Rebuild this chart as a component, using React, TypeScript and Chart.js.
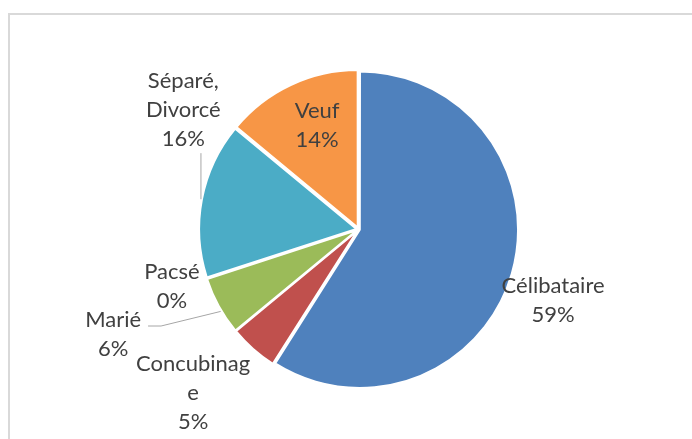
import { useEffect, useRef } from "react";
import { Chart, registerables } from "chart.js";

Chart.register(...registerables);

const categories = ["Célibataire", "Concubinage", "Marié", "Pacsé", "Séparé, Divorcé", "Veuf"];
const shares = [59, 5, 6, 0, 16, 14];
const labelLines = [["Célibataire"], ["Concubinag", "e"], ["Marié"], ["Pacsé"], ["Séparé,", "Divorcé"], ["Veuf"]];
const colors = ["#4F81BD", "#C0504D", "#9BBB59", "#8064A2", "#4BACC6", "#F79646"];

// label placement: radial distance (x outer radius) and angular shift (deg) from slice bisector
const labelPlacement = [
  { r: 1.32, shift: 4 },
  { r: 1.483, shift: 3.9 },
  { r: 1.7, shift: 5.7 },
  { r: 1.244, shift: 0.9 },
  { r: 1.35, shift: 23.4 },
  { r: 0.715, shift: 3.5 },
];

const FONT_SIZE = 22;
const LINE_H = 29;
const TEXT_COLOR = "#404040";
const LEADER_COLOR = "#A6A6A6";
const SLICE_SHIFT = 2.5;

const total = shares.reduce((a, b) => a + b, 0);

const labelPlugin = {
  id: "pieLabels",
  afterDatasetsDraw(chart: any) {
    const ctx = chart.ctx as CanvasRenderingContext2D;
    const meta = chart.getDatasetMeta(0);
    ctx.save();
    ctx.font = `${FONT_SIZE}px Lato`;
    ctx.fillStyle = TEXT_COLOR;
    ctx.textAlign = "center";
    ctx.textBaseline = "middle";
    meta.data.forEach((arc: any, i: number) => {
      const mid = (arc.startAngle + arc.endAngle) / 2;
      const R = arc.outerRadius;
      const p = labelPlacement[i];
      const a = mid + (p.shift * Math.PI) / 180;
      const cx = arc.x + Math.cos(a) * R * p.r;
      const cy = arc.y + Math.sin(a) * R * p.r;
      const lines = [...labelLines[i], `${shares[i]}%`];
      const top = cy - ((lines.length - 1) * LINE_H) / 2;
      lines.forEach((t, k) => ctx.fillText(t, cx, top + k * LINE_H));

      // leader lines
      const sx = Math.cos(mid) * SLICE_SHIFT;
      const sy = Math.sin(mid) * SLICE_SHIFT;
      if (categories[i] === "Séparé, Divorcé") {
        const px = arc.x + Math.cos(mid) * (R + 1) + sx;
        const py = arc.y + Math.sin(mid) * (R + 1) + sy;
        const bottom = top + (lines.length - 1) * LINE_H + 14;
        ctx.strokeStyle = LEADER_COLOR;
        ctx.lineWidth = 1;
        ctx.beginPath();
        ctx.moveTo(px, py);
        ctx.lineTo(px, bottom);
        ctx.stroke();
      }
      if (categories[i] === "Marié") {
        const b = mid - (2 * Math.PI) / 180;
        const px = arc.x + Math.cos(b) * (R + 1) + sx;
        const py = arc.y + Math.sin(b) * (R + 1) + sy;
        const w = ctx.measureText(lines[0]).width;
        const ly = cy - 8;
        ctx.strokeStyle = LEADER_COLOR;
        ctx.lineWidth = 1;
        ctx.beginPath();
        ctx.moveTo(px, py);
        ctx.lineTo(cx + w / 2 + 20, ly);
        ctx.lineTo(cx + w / 2 + 7, ly);
        ctx.stroke();
      }
    });
    ctx.restore();
  },
};

export default function App() {
  const ref = useRef<HTMLCanvasElement | null>(null);
  useEffect(() => {
    if (!ref.current) return;
    const chart = new Chart(ref.current, {
      type: "pie",
      data: {
        labels: categories,
        datasets: [
          {
            data: shares,
            backgroundColor: colors,
            borderColor: "#FFFFFF",
            borderWidth: 2,
            offset: (c: any) => {
              const v = c.raw ?? 0;
              const circ = (v / total) * Math.PI * 2;
              const fix = 1 - Math.sin(Math.min(Math.PI, circ));
              return (4 * SLICE_SHIFT) / (1 + fix);
            },
          },
        ],
      },
      options: {
        responsive: false,
        animation: false,
        devicePixelRatio: 1,
        radius: 157,
        layout: { padding: { left: 150, right: 124.8, top: 50, bottom: 30.4 } },
        plugins: { legend: { display: false }, tooltip: { enabled: false } },
      } as any,
      plugins: [labelPlugin],
    });
    return () => chart.destroy();
  }, []);
  return (
    <div style={{ position: "fixed", left: 0, top: 0, width: 692, height: 439, background: "#fff" }}>
      <div
        style={{
          position: "fixed",
          left: 8,
          top: 13,
          width: 760,
          height: 500,
          border: "2px solid #D9D9D9",
          boxSizing: "border-box",
        }}
      />
      <canvas ref={ref} width={692} height={439} style={{ position: "absolute", left: 0, top: 0, width: 692, height: 439 }} />
    </div>
  );
}
